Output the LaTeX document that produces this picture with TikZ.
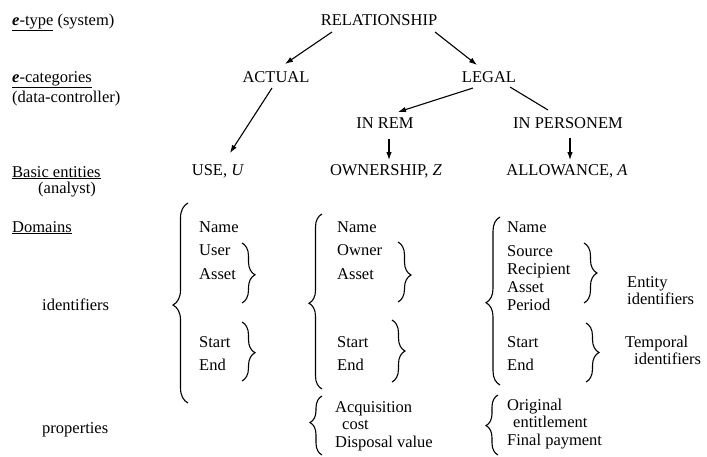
\documentclass[tikz,border=0pt]{standalone}
\usepackage{fontspec}
\setmainfont{Liberation Serif}
\usetikzlibrary{arrows.meta,decorations.pathreplacing}
\begin{document}
\begin{tikzpicture}[x=1pt,y=-1pt,
  txt/.style={inner sep=0pt,anchor=base west,font=\fontsize{16.5}{19}\selectfont},
  ctr/.style={inner sep=0pt,anchor=base,font=\fontsize{16.5}{19}\selectfont},
  arr/.style={line width=1.1pt,-{Latex[length=8pt,width=5.5pt]}},
  ln/.style={line width=1.1pt},
  brc/.style={decorate,line width=1.1pt}
]
\useasboundingbox (0,0) rectangle (707,456);

% left labels
\node[txt] (lt1) at (12,25) {\underline{\textbf{\textit{e}}-type} (system)};
\node[txt] (lt2) at (12,82) {\underline{\textbf{\textit{e}}-categories}};
\node[txt] (lt3) at (12,102) {(data-controller)};
\node[txt] (lt4) at (12,177) {\underline{Basic entities}};
\node[txt] (lt5) at (38,193) {(analyst)};
\node[txt] (lt6) at (12,232) {\underline{Domains}};
\node[txt] (lt7) at (42,310) {identifiers};
\node[txt] (lt8) at (42,433) {properties};

% hierarchy
\node[ctr] (rel) at (379,25) {RELATIONSHIP};
\node[ctr] (act) at (276,82) {ACTUAL};
\node[ctr] (leg) at (489,82) {LEGAL};
\node[ctr] (inrem) at (385,128) {IN REM};
\node[ctr] (inpers) at (568,128) {IN PERSONEM};
\node[ctr] (use) at (218,175) {USE, \textit{U}};
\node[ctr] (own) at (386,175) {OWNERSHIP, \textit{Z}};
\node[ctr] (allow) at (567,175) {ALLOWANCE, \textit{A}};

\draw[arr] ([shift={(-47,7)}]rel.base) -- ([shift={(9,-18)}]act.base);
\draw[arr] ([shift={(56,7)}]rel.base) -- ([shift={(-12,-17)}]leg.base);
\draw[arr] ([shift={(-4,6)}]act.base) -- ([shift={(12,-22)}]use.base);
\draw[arr] ([shift={(-16,6)}]leg.base) -- ([shift={(13,-16)}]inrem.base);
\draw[ln] ([shift={(21,5)}]leg.base) -- ([shift={(-20,-18)}]inpers.base);
\draw[arr] ([shift={(4,11)}]inrem.base) -- ([shift={(3,-15)}]own.base);
\draw[arr] ([shift={(2,10)}]inpers.base) -- ([shift={(3,-15)}]allow.base);

% column 1
\node[txt] (c1a) at (199,232) {Name};
\node[txt] (c1b) at (199,255) {User};
\node[txt] (c1c) at (199,279) {Asset};
\node[txt] (c1d) at (199,347) {Start};
\node[txt] (c1e) at (199,370) {End};
\draw[brc,decoration={brace,amplitude=15pt,aspect=0.49}] (188,403) -- (188,203);
\draw[brc,decoration={brace,amplitude=13pt,aspect=0.53}] (242,243) -- (242,303);
\draw[brc,decoration={brace,amplitude=13pt,aspect=0.52}] (242,322) -- (242,381);

% column 2
\node[txt] (c2a) at (337,232) {Name};
\node[txt] (c2b) at (337,255) {Owner};
\node[txt] (c2c) at (337,279) {Asset};
\node[txt] (c2d) at (337,347) {Start};
\node[txt] (c2e) at (337,370) {End};
\node[txt] (c2f) at (335,412) {Acquisition};
\node[txt] (c2g) at (342,429) {cost};
\node[txt] (c2h) at (335,447) {Disposal value};
\draw[brc,decoration={brace,amplitude=13pt,aspect=0.49}] (322,389) -- (322,214);
\draw[brc,decoration={brace,amplitude=13pt,aspect=0.55}] (398,242) -- (398,302);
\draw[brc,decoration={brace,amplitude=13pt,aspect=0.5}] (392,320) -- (392,382);
\draw[brc,decoration={brace,amplitude=12pt,aspect=0.55}] (322,455) -- (322,396);

% column 3
\node[txt] (c3a) at (507,232) {Name};
\node[txt] (c3b) at (507,256) {Source};
\node[txt] (c3c) at (507,274) {Recipient};
\node[txt] (c3d) at (507,292) {Asset};
\node[txt] (c3e) at (507,310) {Period};
\node[txt] (c3f) at (507,347) {Start};
\node[txt] (c3g) at (507,370) {End};
\node[txt] (c3h) at (507,410) {Original};
\node[txt] (c3i) at (513,427) {entitlement};
\node[txt] (c3j) at (507,445) {Final payment};
\draw[brc,decoration={brace,amplitude=14pt,aspect=0.49}] (500,385) -- (500,217);
\draw[brc,decoration={brace,amplitude=13pt,aspect=0.5}] (584,243) -- (584,303);
\draw[brc,decoration={brace,amplitude=13pt,aspect=0.5}] (586,323) -- (586,382);
\draw[brc,decoration={brace,amplitude=12pt,aspect=0.49}] (498,455) -- (498,395);

\node[txt] (en1) at (627,287) {Entity};
\node[txt] (en2) at (627,304) {identifiers};
\node[txt] (tp1) at (625,347) {Temporal};
\node[txt] (tp2) at (634,364) {identifiers};
\end{tikzpicture}
\end{document}
